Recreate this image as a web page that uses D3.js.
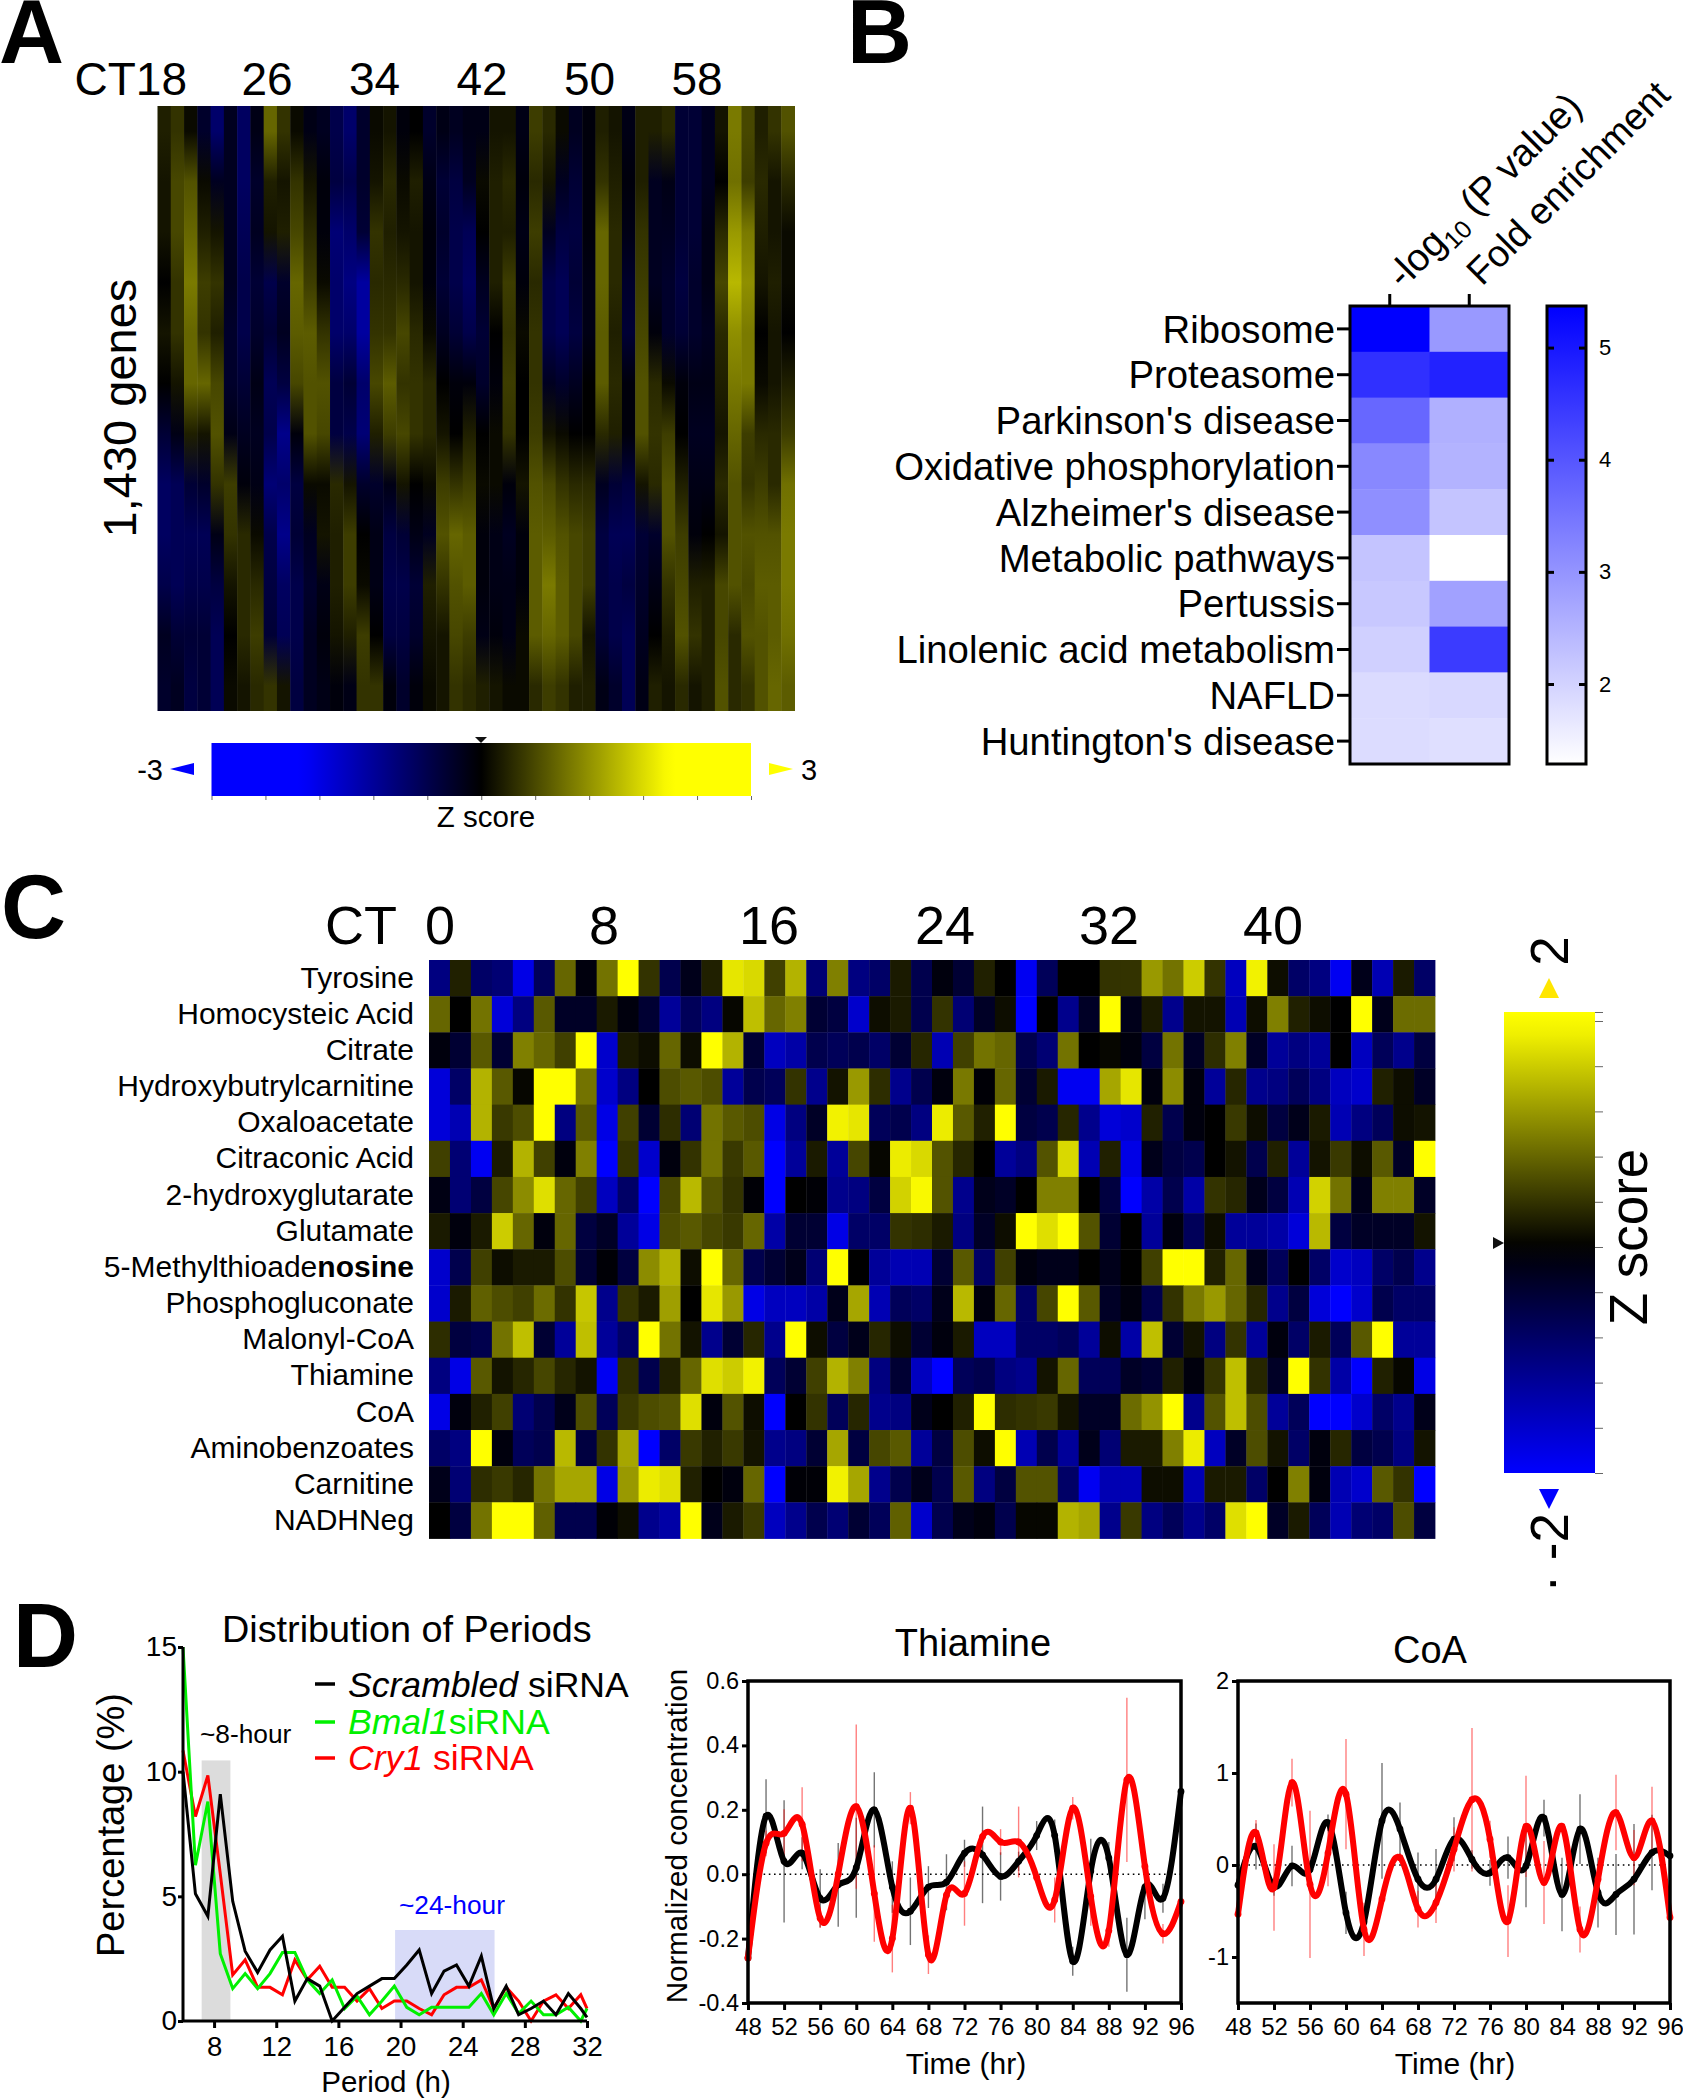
<!DOCTYPE html>
<html><head><meta charset="utf-8">
<script src="https://cdn.jsdelivr.net/npm/d3@7"></script>
<style>
html,body{margin:0;padding:0;background:#fff}
svg{display:block}
text{font-family:"Liberation Sans",Arial,sans-serif;fill:#000}
</style></head><body>
<svg id="c" width="1683" height="2100" viewBox="0 0 1683 2100"></svg>
<script>
// ---------- Panel A: 1,430 genes x 48 time points. The individual gene rows cannot be read from the
// picture, so each of the 48 columns holds the visually estimated mean Z score in 12 vertical zones.
const heatAColumns = [
[.3,.2,.2,0,.2,0,-.5,-.9,-.9,-.7,-.3,-.4],[.5,.7,.7,.5,.5,.2,-.2,-.8,-.8,-.8,-.5,-.3],
[.1,.8,1,1.2,1,1,.3,-.5,-.8,-.7,-.5,-.6],[-.4,.1,.3,.6,.5,1,.2,-.4,-.8,-.7,-.5,-.5],
[-1,-.3,.2,.5,.3,.7,.8,.5,-.2,-.6,-.8,-.8],[-.3,-.3,-.3,-.3,-.4,-.4,-.2,.6,.5,.2,0,.1],
[-.9,-.9,-.8,-.7,-.7,-.5,-.3,-.1,.4,.4,.4,.2],[-.2,-.4,-.3,-.5,-.4,-.2,-.3,-.2,.1,.4,.6,.4],
[1,.3,.2,-.7,-.5,-.8,-.7,-1.1,-.7,-.6,-.5,.5],[.5,.2,.3,-.4,-.3,-.6,-1.3,-1,-1.3,-.9,-.8,.2],
[.1,.5,.7,1,.9,.7,-.1,-.6,-.5,-.7,-.7,-.6],[-.2,.2,.4,.6,.9,.8,.8,.1,-.3,-.4,-.3,-.3],
[-.3,-.1,-.1,.1,.5,.8,.7,.1,.2,-.2,-.1,-.2],[-.7,-.6,-1.1,-1,-1,-.6,-.6,.4,.3,.3,.2,-.1],
[-1,-.7,-1,-1.2,-1,-.5,-.7,.2,.6,.6,.3,-.2],[-.4,-.4,-.5,-1.5,-1.5,-1,-1.1,-.4,0,.1,.6,.5],
[.1,.2,.5,.4,.5,.7,.3,-.4,-.2,-.2,0,.5],[.2,.4,.3,.4,.5,.9,.6,-.2,-.6,-.7,-.6,-.1],
[-.1,.1,.2,.4,.7,.5,.7,.2,-.5,-.7,-.6,-.4],[0,.3,.2,.2,.4,.5,.5,0,-.2,-.5,-.4,-.1],
[-.4,-.2,-.1,-.1,.1,.4,.4,.1,-.3,.3,.2,.1],[-.2,-.5,-.4,-.5,-.3,0,.2,.6,.8,.5,.2,.2],
[-.3,-.6,-.7,-.7,-.5,-.1,0,.5,1,.8,.7,.5],[-.2,-.3,-.8,-.9,-.7,-.1,.3,.6,.9,.9,.6,.4],
[-.2,.1,0,-.3,-.5,-.4,0,.1,-.1,-.1,-.2,.3],[.2,.3,.3,.3,0,-.1,.1,.1,-.2,-.2,-.1,.2],
[.2,.4,.3,.6,.5,.6,.5,-.1,-.3,-.2,-.2,.1],[-.2,-.1,-.2,-.1,.1,0,0,.2,-.1,-.1,.1,.1],
[.6,.4,.6,.4,.5,.5,.6,.8,.9,.9,.9,.4],[.4,.2,-.3,-.7,-.7,-.3,.2,.7,.9,1.2,1,.6],
[.1,-.3,-.6,-.8,-.8,-.4,.1,.5,.8,.9,.9,.5],[-.3,-.5,-.6,-.5,-.6,-.3,0,.4,.7,.7,.7,.3],
[-.1,-.1,-.1,-.2,-.2,0,0,.4,.6,.6,.2,.3],[.3,.5,1,1,.9,.9,.4,-.3,-.6,-.6,-.5,-.2],
[.2,.3,.4,.4,.3,.4,.3,-.5,-.8,-.7,-.7,-.4],[-.2,-.1,-.2,-.4,-.5,-.1,-.1,-.6,-.8,-.6,-.8,-.8],
[.3,.3,.5,.6,.7,.8,.8,.2,-.5,-.4,-.3,-.2],[.3,-.3,-.3,-.3,-.1,.4,.5,.4,-.4,-.2,0,.3],
[.4,-.2,-.3,-.4,-.4,.1,.6,.8,.8,.5,.3,.2],[-.5,-.5,-.5,-.6,-.5,-.1,0,.3,.6,.7,.8,.4],
[-.5,-.5,-.5,-.4,-.4,-.2,-.3,-.2,-.1,.3,.5,.2],[-.3,-.3,-.2,-.2,-.3,-.2,-.3,-.2,0,.3,.3,.3],
[.2,0,.4,.7,.4,.3,.2,.4,.2,.7,.7,.8],[1.2,1.1,1.5,1.8,1.4,1.2,1,.8,.8,.8,.4,.4],
[.7,.6,1.2,1.4,1.2,1.2,.6,.5,.8,.7,.8,.5],[.3,.4,.3,.2,0,.1,.4,.6,.8,.9,.8,.8],
[.5,.2,.2,.3,.2,.2,.4,.4,.8,.9,.9,1],[.8,.4,.1,.1,0,.3,.6,1.1,1.2,1.2,1.1,.9]];
const ctLabelsA = [26,34,42,50,58];

// ---------- Panel B
const pathways = ["Ribosome","Proteasome","Parkinson's disease","Oxidative phosphorylation","Alzheimer's disease","Metabolic pathways","Pertussis","Linolenic acid metabolism","NAFLD","Huntington's disease"];
const enrichColumns = ["p","fold"];
const logP = [5.37,4.6,3.73,3.2,3.08,2.23,2.17,2.05,1.86,1.85];
const foldEnrichment = [2.92,4.83,2.55,2.5,2.23,1.29,2.8,4.42,1.92,1.8];
const bScaleTicks = [2,3,4,5];

// ---------- Panel C
const metabolites = ["Tyrosine","Homocysteic Acid","Citrate","Hydroxybutrylcarnitine","Oxaloacetate","Citraconic Acid","2-hydroxyglutarate","Glutamate","5-Methylthioadenosine","Phosphogluconate","Malonyl-CoA","Thiamine","CoA","Aminobenzoates","Carnitine","NADHNeg"];
const ctLabelsC = [0,8,16,24,32,40];
const heatC = [
[-1,.25,-.8,-.9,-1.8,-.7,.8,-.1,.9,2,.4,-.6,-.2,.25,1.8,1.7,.5,1.4,-.9,1,-1,-.8,.2,-.6,-.1,-.4,.25,0,-1.9,-.7,0,0,.4,.4,1.2,.9,1.6,.4,-1.5,1.9,.1,-.8,-1,-1.9,-.2,-1.4,.2,-.8],
[.8,0,.9,-1.7,-1,.7,-.3,-.3,.2,-.1,-.4,-1.2,-.7,-1,.05,1.5,.8,1,-.4,-.5,-1.6,.1,.2,-.6,.4,-.9,-.3,.1,-2,0,-1.1,-.3,2,-.2,.2,-1.1,.15,.15,-1.4,.1,1,.25,.1,0,2,-.2,.85,.85],
[-.1,-.4,.7,-.4,1,.8,.5,2,-1.6,.2,.1,.8,.1,2,1.4,-.4,-1.5,-1.3,-.6,-.7,-.6,-.8,-.4,.3,-1.4,.5,.9,.8,-.6,-.9,.9,0,.05,-.1,-.5,.9,-.3,.35,1,-.3,-1.2,-1,-1.2,0,-1.5,-.7,-1.1,-.5],
[-1.7,-.8,1.4,.7,.05,2,2,.9,-1.6,-1,0,.6,.7,.6,-1.2,-.6,-.7,.4,-1.1,.15,1.2,.35,-1.1,-.6,-.1,.95,-.05,.8,-.4,.2,-1.9,-1.9,1.3,1.8,-.1,1.1,-.1,-1.2,.3,-1.1,-1,-.7,-1,-1.5,-1.6,.25,.1,-.3],
[-1.7,-1.4,1.4,.45,.6,2,-1,.7,-1.8,.5,-.4,.35,-.9,.9,.7,.6,-1.8,-1,-.3,1.9,1.8,-.7,-.6,-1,1.85,.7,.25,2,-.5,-.6,.3,-1.1,-1.7,-1.6,.25,-.6,-.1,0,.45,.1,-.5,-.2,.2,-1.4,-1,-.7,.1,.15],
[.5,-.9,-1.9,.2,1.4,.5,-.1,1,-2,.4,-1.6,-.1,.4,.9,.45,.7,-2,-1.2,.2,-1.2,.55,.05,1.85,1.7,.65,.3,0,-1.2,-1,.65,1.7,-1.4,.25,-1.8,-.2,-.5,-.6,0,.15,-.6,.25,-1.2,.15,.45,.1,.7,-.3,2],
[-.15,-.9,-.5,.55,1.1,1.75,.8,.5,-1.5,-.8,-2,.55,1.45,.65,.4,-.05,-2,0,-.05,-1.1,-1,-.5,1.65,1.95,.65,-1.1,-.2,-.3,0,1,1,0,-.5,-2,-1.3,-.6,-1.3,.4,.3,-.2,-.5,-1.4,1.65,.9,-.2,1,1,-.3],
[.2,-.1,.2,1.6,.8,-.1,.8,-.5,-.3,-1.2,-1.8,.6,.7,.55,.45,.8,-1.3,-.4,-.4,-1.8,-.8,-.8,.4,.35,.2,-1,-.3,.1,2,1.75,2,.65,-.4,0,-1.2,-.1,-.7,.1,-1.2,-1.2,-1.3,-1.7,1.45,-.5,-.3,-.3,-.3,.15],
[-1.6,-.6,.5,.1,.2,.2,.6,-.4,-.05,-.5,1.1,1.4,.1,2,.8,-.6,-.4,-.2,-.9,2,0,-1.2,-1.4,-1.4,-.4,.7,-.8,.5,-.1,-.2,-.2,0,-.2,0,.5,2,2,.25,.8,-.2,-.7,0,-.8,-1.6,-1.5,-.8,-.6,-1.1],
[-1.6,.2,.75,.6,.5,.85,.4,1.55,-1.1,.4,.2,1.25,0,1.8,1.2,-1.8,-1.5,-1.5,-1.3,-.2,1.3,-1.4,-.7,-.8,-.2,1.45,-.1,.8,-.8,.55,2,.7,-.3,-.1,-.6,.4,.95,1.2,.8,.3,-1.1,-.5,-1.7,-2,-1.6,-.6,-.8,-.8],
[.35,-.5,-.6,.9,1.5,-.4,-1.2,1.5,-1.2,-.8,2,.9,.15,-1.1,-.4,.3,-1.1,2,.1,-.5,-.2,.3,.1,-.4,-.1,.2,-1.5,-1.5,-.8,-.8,-.7,-1.2,.1,-1.3,1.5,-.4,.15,-1,.4,-1.2,-.1,-.8,.2,-.7,.7,2,-1.2,-1.2],
[-1,-1.8,.7,.15,.3,.55,.3,.15,-1.9,.35,-.6,.25,.8,1.75,1.6,1.9,-.7,-.4,.5,1.4,1,-1,-.4,-1.5,-2,-.7,-.6,-1,-1.1,.15,.8,-.7,-.7,-.3,-.4,.25,-.1,.4,1.5,.3,-.3,2,.4,-1.3,-2,.25,.05,-1.8],
[-1.8,-.1,.25,.5,-.9,-.6,-.2,.6,-.7,.45,.6,.65,1.75,-.1,.65,.1,-2,0,.4,-.7,.3,-1.1,-1,-.2,0,.25,2,.35,.4,.45,.15,-.3,-.3,.85,1.15,2,-1.1,.65,1.5,.6,-1.2,-.7,-2,-2,-1.6,-.8,-1.1,-.2],
[-.8,-1,2,-.1,-.7,-.6,1.45,-.5,.4,1.3,-2,-.8,.45,.25,.45,.15,-1.1,-1,-.4,1.3,-.5,.55,.7,-1.2,-.5,.6,.1,2,-1.4,-.6,-1.2,-.2,-.9,.2,.2,1,1.85,-1.5,-.3,.6,.15,-.8,-.1,.3,-.5,-.6,-1,.15],
[-.2,-.9,.35,.45,.3,.9,1.3,1.3,-1.8,1.2,1.85,1.75,.25,0,-.1,.8,-2,-.05,-.05,1.9,1.3,-1.1,-.6,-.2,-.6,.7,-1,-.5,.65,.65,-.8,-1.9,-1.4,-1.4,.1,.1,-1.4,.2,.2,-.8,0,1,-.1,-1.4,-1.6,.7,.4,-2],
[0,-.5,.9,2,2,.75,-.6,-.6,-.05,.1,-1.1,-1.3,2,-.2,.2,.45,-1.5,-1.1,-.6,-.9,-.4,-.7,.75,-1.6,-.6,-.2,-.1,-.6,.05,.05,1.4,1.3,-1.1,.45,-1,-.7,-1.1,-.8,1.75,2,-.3,.2,-.7,-1.4,-.9,-.8,.6,-.5]];

// ---------- Panel D: distribution of periods
const periods = [6,6.8,7.6,8.4,9.2,10,10.8,11.6,12.4,13.2,14,14.8,15.6,16.4,17.2,18,18.8,19.6,20.4,21.2,22,22.8,23.6,24.4,25.2,26,26.8,27.6,28.4,29.2,30,30.8,31.6,32];
const scrambled = [10,5.1,4.2,9.1,4.8,2.8,1.95,2.85,3.4,.8,1.7,1.4,0,.55,1.1,1.4,1.7,1.7,2.25,2.85,1.1,2,2.25,1.4,2.6,.5,1.4,.25,.5,.8,.25,1.1,.5,.15];
const bmal1 = [15,6.25,8.8,2.7,1.3,1.9,1.3,1.9,2.75,2.75,1.65,1.1,1.65,.5,1,.25,.8,1.4,.55,.25,.55,.55,.55,.55,1.1,.25,1.1,.3,.8,.25,.25,.55,0,.5];
const cry1 = [10.85,8.2,9.85,5.9,1.85,2.45,1.35,1.35,1.05,2.45,1.65,2.2,1.35,1.35,.8,1.3,.5,.8,.8,.5,.25,1.05,1.35,1.35,1.65,.5,1.35,.8,0,.8,1.05,.5,1.05,.5];
const periodTicksX = [8,12,16,20,24,28,32];
const periodTicksY = [0,5,10,15];

// ---------- Panel D: time courses (every 2 h, 48..96)
const hours = d3.range(48,97,2);
const timeTicks = d3.range(48,97,4);
const thiamineBlack = [-.26,.18,.04,.065,-.075,-.033,.02,.2,-.04,-.115,-.04,-.025,.065,.06,-.007,.04,.12,.12,-.27,.01,.05,-.25,-.04,-.075,.257];
const thiamineBlackErr = [.05,.115,.19,.05,.09,.13,.155,.117,.08,.105,.065,.087,.042,.15,.075,.03,.045,.05,.045,.1,.05,.115,.1,.045,.05];
const thiamineRed = [-.26,.096,.127,.155,-.137,0,.21,-.06,-.2,.205,-.25,-.065,-.06,.117,.1,.1,-.01,-.08,.205,-.07,-.175,.293,.024,-.185,-.085];
const thiamineRedErr = [.045,.04,.075,.115,.03,.03,.255,.15,.105,.05,.06,.02,.1,.02,.04,.11,.01,.07,.035,.09,.05,.255,.03,.03,.02];
const coaBlack = [-.22,.2,-.235,-.01,-.05,.46,-.52,-.62,.48,.39,-.155,-.155,.28,.06,-.085,.08,-.01,.51,-.32,.39,-.3,-.32,-.155,.135,.1];
const coaBlackErr = [.1,.25,.1,.22,.1,.09,.23,.1,.63,.29,.29,.33,.24,.1,.14,.23,.45,.2,.4,.38,.38,.44,.6,.41,.05];
const coaRed = [-.535,.35,-.245,.895,-.21,.13,.77,-.7,-.37,.08,-.48,-.41,.17,.71,.28,-.61,.42,-.19,.42,-.7,-.155,.57,.08,.48,-.57];
const coaRedErr = [.05,.14,.47,.26,.8,.36,.6,.29,.1,.05,.2,.22,.24,.78,.2,.39,.55,.45,.04,.25,.1,.41,.3,.37,.05];

const svg = d3.select("#c");
const defs = svg.append("defs");
const label = (x,y,t,size,opt={})=>{
  const s = svg.append("text").attr("x",x).attr("y",y).attr("font-size",size).text(t);
  if(opt.anchor) s.attr("text-anchor",opt.anchor);
  if(opt.weight) s.attr("font-weight",opt.weight);
  if(opt.fill) s.style("fill",opt.fill);
  if(opt.rotate!==undefined) s.attr("transform",`rotate(${opt.rotate} ${x} ${y})`);
  return s;
};
const tri = (pts,fill)=>svg.append("polygon").attr("points",pts.map(p=>p.join(",")).join(" ")).attr("fill",fill);
const gradient = (id,x1,y1,x2,y2,stops)=>{
  const g = defs.append("linearGradient").attr("id",id).attr("x1",x1).attr("y1",y1).attr("x2",x2).attr("y2",y2);
  stops.forEach(s=>g.append("stop").attr("offset",s[0]).attr("stop-color",s[1]));
};
const styleAxis = (g,sw,color="#000",size=null)=>{
  g.selectAll("line").attr("stroke",color).attr("stroke-width",sw);
  g.selectAll("path.domain").remove();
  g.selectAll("text").style("fill","#000").attr("font-family",null);
  g.attr("font-family",null);
  if(size) g.attr("font-size",size);
};

// Panel letters
[["A",-1,63,90],["B",847,63,90],["C",1,938,90],["D",13,1667,90]].forEach(d=>label(d[1],d[2],d[0],d[3],{weight:"bold"}));

// ===== Panel A =====
const colorA = d3.scaleLinear().domain([-2,0,2.1]).range(["#0000ff","#000000","#ffff00"]).clamp(true);
// colour for zone means: a zone mixes bright and black streaks, so its mean reads darker than a saturated cell
const colorAMean = d3.scaleLinear().domain([-2.4,0,2.5]).range(["#0000ff","#000000","#ffff00"]).clamp(true);
const xA = d3.scaleBand().domain(d3.range(48)).range([157.5,794.5]);
heatAColumns.forEach((col,i)=>gradient(`colA${i}`,0,0,0,1,col.map((v,j)=>[(j+.5)/col.length,colorAMean(v)])));
svg.append("g").selectAll("rect").data(heatAColumns).join("rect")
  .attr("x",(d,i)=>xA(i)).attr("y",106).attr("width",xA.bandwidth()+.5).attr("height",605)
  .attr("fill",(d,i)=>`url(#colA${i})`);
const ctA = d3.scaleLinear().domain([26,58]).range([267,697]);
label(187,95,"CT18",46,{anchor:"end"});
svg.append("g").selectAll("text").data(ctLabelsA).join("text")
  .attr("x",d=>ctA(d)).attr("y",95).attr("text-anchor","middle").attr("font-size",46).text(d=>d);
label(136,408,"1,430 genes",47,{anchor:"middle",rotate:-90});
// A legend
const zA = d3.scaleLinear().domain([-3,3]).range([211.5,751]);
gradient("gA",0,0,1,0,d3.range(0,1.001,.02).map(t=>[t,colorA(-3+6*t)]));
svg.append("rect").attr("x",zA(-3)).attr("y",743).attr("width",zA(3)-zA(-3)).attr("height",53).attr("fill","url(#gA)");
const aAx = svg.append("g").attr("transform","translate(0,796)").call(d3.axisBottom(zA).tickValues(d3.range(11).map(i=>-3+i*.6)).tickSize(4).tickFormat(""));
styleAxis(aAx,1,"#666");
tri([[475,737],[487,737],[481,743]],"#111");
tri([[170,769],[194,763],[194,775]],"#0000ff");
tri([[769,763],[793,769],[769,775]],"#ffff00");
label(163,780,"-3",29,{anchor:"end"});
label(801,780,"3",29);
label(486,827,"Z score",29.5,{anchor:"middle"});

// ===== Panel B =====
const xB = d3.scaleBand().domain(enrichColumns).range([1350,1509]);
const yB = d3.scaleBand().domain(pathways).range([306,764]);
const bDomain = [1.29,5.37];
const colorB = d3.scaleLinear().domain(bDomain).range(["#ffffff","#0000ff"]);
[["p",logP],["fold",foldEnrichment]].forEach(([k,vals])=>{
  svg.append("g").selectAll("rect").data(vals).join("rect")
    .attr("x",xB(k)).attr("y",(d,i)=>yB(pathways[i])).attr("width",xB.bandwidth()+.5).attr("height",yB.bandwidth()+.5)
    .attr("fill",d=>colorB(d));
});
svg.append("rect").attr("x",1350).attr("y",306).attr("width",159).attr("height",458).attr("fill","none").attr("stroke","#000").attr("stroke-width",3);
const bLeft = svg.append("g").attr("transform","translate(1350,0)").call(d3.axisLeft(yB).tickSize(13).tickPadding(2));
styleAxis(bLeft,3,"#000",38.3);
bLeft.selectAll("text").attr("dy","0.36em");
const bTop = svg.append("g").attr("transform","translate(0,306)").call(d3.axisTop(xB).tickSize(12).tickFormat(""));
styleAxis(bTop,3);
// rotated column labels
const t1 = svg.append("text").attr("transform","translate(1403,290) rotate(-45)").attr("font-size",38.5);
t1.append("tspan").text("-log");
t1.append("tspan").attr("font-size",25).attr("dy",8).text("10");
t1.append("tspan").attr("dy",-8).text(" (P value)");
svg.append("text").attr("transform","translate(1482,287) rotate(-45)").attr("font-size",37.5).text("Fold enrichment");
// B colour scale
const yBs = d3.scaleLinear().domain([2,5]).range([684,347.6]);
gradient("gB",0,1,0,0,[[0,colorB(bDomain[0])],[1,colorB(bDomain[1])]]);
svg.append("rect").attr("x",1547).attr("y",306).attr("width",39).attr("height",458).attr("fill","url(#gB)").attr("stroke","#000").attr("stroke-width",3);
const bsR = svg.append("g").attr("transform","translate(1586,0)").call(d3.axisRight(yBs).tickValues(bScaleTicks).tickSize(-7).tickPadding(13).tickFormat(d3.format("d")));
styleAxis(bsR,3,"#000",22);
const bsL = svg.append("g").attr("transform","translate(1547,0)").call(d3.axisLeft(yBs).tickValues(bScaleTicks).tickSize(-7).tickFormat(""));
styleAxis(bsL,3);

// ===== Panel C =====
const colorC = d3.scaleLinear().domain([-2,0,2]).range(["#0000ff","#000000","#ffff00"]).clamp(true);
const xC = d3.scaleBand().domain(d3.range(48)).range([429,1435]);
const yC = d3.scaleBand().domain(metabolites).range([960,1538.5]);
svg.append("g").selectAll("g").data(heatC).join("g")
  .attr("transform",(d,i)=>`translate(0,${yC(metabolites[i])})`)
  .selectAll("rect").data(d=>d).join("rect")
  .attr("x",(d,i)=>xC(i)).attr("width",xC.bandwidth()+.4).attr("height",yC.bandwidth()+.4).attr("fill",d=>colorC(d));
const cLeft = svg.append("g").attr("transform","translate(429,0)").call(d3.axisLeft(yC).tickSize(0).tickPadding(15));
styleAxis(cLeft,0,"#000",30);
cLeft.selectAll("text").filter(d=>d==="5-Methylthioadenosine").each(function(){
  const s=d3.select(this); s.text("5-Methylthioade");
  s.append("tspan").attr("font-weight","bold").text("nosine");
});
const ctC = d3.scaleLinear().domain(ctLabelsC).range([440,604,769,945,1109,1273]);
label(325,944,"CT",54);
svg.append("g").selectAll("text").data(ctLabelsC).join("text")
  .attr("x",d=>ctC(d)).attr("y",944).attr("text-anchor","middle").attr("font-size",54).text(d=>d);
// C legend
const zC = d3.scaleLinear().domain([-2,2]).range([1473,1021]);
const cTop = zC.invert(1012);
gradient("gC",0,1,0,0,d3.range(0,1.001,.05).map(t=>[t,colorC(-2+(cTop+2)*t)]));
svg.append("rect").attr("x",1504).attr("y",1012).attr("width",91).attr("height",461).attr("fill","url(#gC)");
const cAx = svg.append("g").attr("transform","translate(1595,0)").call(d3.axisRight(zC).tickValues(d3.range(11).map(i=>-2+i*.4).concat([cTop])).tickSize(8).tickFormat(""));
styleAxis(cAx,1,"#666");
tri([[1493,1237],[1504,1243],[1493,1249]],"#111");
tri([[1539,998],[1549,978],[1559,998]],"#ffe600");
tri([[1539,1489],[1559,1489],[1549,1509]],"#0000ff");
label(1568,951,"2",53,{anchor:"middle",rotate:-90});
label(1568,1513,"· -2",53,{anchor:"end",rotate:-90});
label(1647,1237,"Z score",53,{anchor:"middle",rotate:-90});

// ===== Panel D left =====
const xP = d3.scaleLinear().domain([6,32]).range([183,587]);
const yP = d3.scaleLinear().domain([0,15]).range([2021,1647]);
svg.append("rect").attr("x",xP(7.2)).attr("y",yP(10.45)).attr("width",xP(9.05)-xP(7.2)).attr("height",yP(.05)-yP(10.45)).attr("fill","#dcdcdc");
svg.append("rect").attr("x",xP(19.65)).attr("y",yP(3.65)).attr("width",xP(26.05)-xP(19.65)).attr("height",yP(.05)-yP(3.65)).attr("fill","#d8dbf8");
const lineP = d3.line().x((d,i)=>xP(periods[i])).y(d=>yP(d));
[[cry1,"#ff0000"],[bmal1,"#00f000"],[scrambled,"#000"]].forEach(([v,c])=>{
  svg.append("path").datum(v).attr("d",lineP).attr("fill","none").attr("stroke",c).attr("stroke-width",3).attr("stroke-linejoin","miter");
});
const pX = svg.append("g").attr("transform","translate(0,2021)").call(d3.axisBottom(xP).tickValues(periodTicksX).tickSize(7).tickPadding(8));
styleAxis(pX,3,"#000",27.5);
const pY = svg.append("g").attr("transform","translate(183,0)").call(d3.axisLeft(yP).tickValues(periodTicksY).tickSize(5).tickPadding(1));
styleAxis(pY,3,"#000",28);
svg.append("line").attr("x1",183).attr("x2",183).attr("y1",1647).attr("y2",2022).attr("stroke","#000").attr("stroke-width",3);
svg.append("line").attr("x1",182).attr("x2",587).attr("y1",2021).attr("y2",2021).attr("stroke","#000").attr("stroke-width",3);
label(386,2092,"Period (h)",29.5,{anchor:"middle"});
label(124,1825,"Percentage (%)",38,{anchor:"middle",rotate:-90});
label(222,1642,"Distribution of Periods",37.8);
label(200,1743,"~8-hour",26.3);
label(399,1914,"~24-hour",26.3,{fill:"#0000ff"});
[[1684,1697,"#000","Scrambled"," siRNA"],[1722,1734,"#00f000","Bmal1","siRNA"],[1758,1770,"#ff0000","Cry1"," siRNA"]].forEach(d=>{
  svg.append("line").attr("x1",315).attr("x2",335).attr("y1",d[0]).attr("y2",d[0]).attr("stroke",d[2]).attr("stroke-width",3.5);
  const t=label(348,d[1],"",35.6,{fill:d[2]});
  t.append("tspan").attr("font-style","italic").style("fill",d[2]).text(d[3]);
  t.append("tspan").style("fill",d[2]).text(d[4]);
});

// ===== Panel D time courses =====
function timeCourse(o){
  const x = d3.scaleLinear().domain([48,96]).range([o.x0,o.x1]);
  const y = d3.scaleLinear().domain(o.domain).range([2003,1681]);
  const g = svg.append("g");
  g.append("line").attr("x1",o.x0).attr("x2",o.x1).attr("y1",y(0)).attr("y2",y(0))
    .attr("stroke","#000").attr("stroke-width",1.6).attr("stroke-dasharray","1.6 3.6");
  const bars = (vals,errs,c)=>g.append("g").selectAll("line").data(vals).join("line")
    .attr("x1",(d,i)=>x(hours[i])).attr("x2",(d,i)=>x(hours[i]))
    .attr("y1",(d,i)=>y(d+errs[i])).attr("y2",(d,i)=>y(d-errs[i]))
    .attr("stroke",c).attr("stroke-width",1.4);
  bars(o.black,o.blackErr,"rgba(0,0,0,.55)");
  bars(o.red,o.redErr,"rgba(255,0,0,.5)");
  const line = d3.line().x((d,i)=>x(hours[i])).y(d=>y(d)).curve(d3.curveNatural);
  [[o.black,"#000"],[o.red,"#ff0000"]].forEach(([v,c])=>{
    g.append("path").datum(v).attr("d",line).attr("fill","none").attr("stroke",c).attr("stroke-width",6);
    g.append("g").selectAll("circle").data(v).join("circle").attr("cx",(d,i)=>x(hours[i])).attr("cy",d=>y(d)).attr("r",3.4).attr("fill",c);
  });
  g.append("rect").attr("x",o.x0).attr("y",1681).attr("width",o.x1-o.x0).attr("height",322).attr("fill","none").attr("stroke","#000").attr("stroke-width",3.5);
  const ax = svg.append("g").attr("transform","translate(0,2003)").call(d3.axisBottom(x).tickValues(timeTicks).tickSize(7).tickPadding(8).tickFormat(d3.format("d")));
  styleAxis(ax,3,"#000",24);
  const ay = svg.append("g").attr("transform",`translate(${o.x0},0)`).call(d3.axisLeft(y).tickValues(o.yTicks).tickSize(6).tickPadding(3).tickFormat(o.fmt));
  styleAxis(ay,3,"#000",23.5);
  label(o.titleX,o.titleY,o.title,o.titleSize,{anchor:"middle"});
  label(o.timeX,2074,"Time (hr)",30,{anchor:"middle"});
}
timeCourse({x0:748,x1:1181,domain:[-.4,.6],black:thiamineBlack,blackErr:thiamineBlackErr,red:thiamineRed,redErr:thiamineRedErr,
  yTicks:[-.4,-.2,0,.2,.4,.6],fmt:d=>d.toFixed(1),title:"Thiamine",titleSize:38,titleX:973,titleY:1656,timeX:966});
timeCourse({x0:1238,x1:1670,domain:[-1.5,2],black:coaBlack,blackErr:coaBlackErr,red:coaRed,redErr:coaRedErr,
  yTicks:[-1,0,1,2],fmt:d=>String(d),title:"CoA",titleSize:38,titleX:1430,titleY:1663,timeX:1455});
label(687,1836,"Normalized concentration",29.5,{anchor:"middle",rotate:-90});
</script>
</body></html>
